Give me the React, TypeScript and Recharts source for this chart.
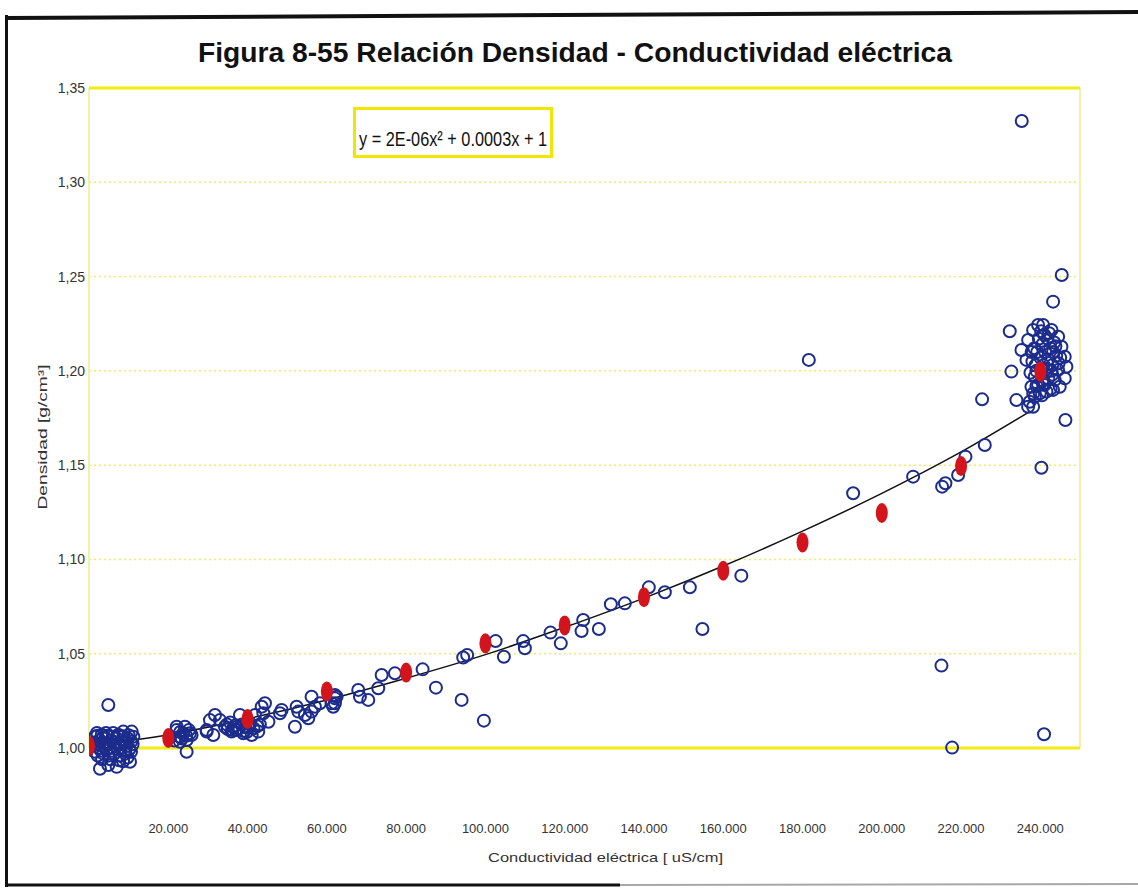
import React from 'react';
import {
  ComposedChart,
  XAxis,
  YAxis,
  Scatter,
  Line,
  ReferenceLine,
} from 'recharts';

// Conductivity (uS/cm) vs density (g/cm3) for the sampled brines
const sampleX: number[] = [
  // low-conductivity cluster
  1500, 2000, 3200, 4300, 6100, 7400, 8650, 10770,
  1500, 2800, 4200, 5600, 7000, 8400, 9800, 11200,
  1510, 2600, 3900, 5200, 6600, 8000, 9400, 11000,
  2200, 3600, 5000, 6400, 7800, 9200, 10600,
  2770, 4870, 6980, 8600, 10340, 4870,
  2100, 3400, 4700, 6000, 7300, 8700, 10000,
  2400, 3700, 5100, 6500, 7900, 9300, 10700,
  3000, 4400, 5800, 7200, 8900, 10200,
  3300, 5400, 7600, 9700,
  // around 20.000
  22120, 24210, 25470, 24630, 22950, 24630, 22950, 23780, 22120, 25880, 21500,
  23000, 24500, 23400, 25200,
  // 30.000 - 62.000
  29680, 31780, 30520, 29680, 31360, 33040, 34300, 35990, 37250, 38920, 41040,
  42700, 40610, 41870, 43560, 44390, 43980, 45270, 48170, 48590, 52380, 52800,
  51950, 54480, 55320, 56150, 57000, 56150, 58260, 61210, 62040, 61610, 38080,
  36500, 39500, 37000, 39000, 35000,
  34800, 36200, 37800, 39800, 41500, 42400, 35600, 38600, 40200, 43100,
  // 62.000 - 90.000
  62040, 62040, 67920, 68350, 70450, 72970, 73830, 77180, 84160, 87520, 62460,
  // 90.000 - 170.000
  94000, 99622, 94400, 95400, 102570, 104660, 109540, 109960, 116420, 119020,
  124670, 124260, 128620, 131650, 135180, 141230, 145270, 151580, 154750, 164570,
  // 170.000 - 250.000
  181590, 192770, 207900, 215210, 216050, 219250, 221110, 225980, 225300, 240270,
  246320, 215050, 217740, 240930, 235310, 245400, 243210, 232280, 235230, 232700,
  233960,
  // high-conductivity cluster
  240690, 242810, 244480, 245320, 246150, 246570, 246150, 244890, 243210, 241530,
  239850, 238590, 237330, 236910, 238170, 236490, 236910, 238170, 239430, 244480,
  243640, 238590, 237750, 239430, 241110,
  238500, 240500, 242500, 238000, 240000, 242000, 244000, 239000, 241500, 243000,
  241000, 243500, 237500, 240500, 242000,
  239600, 241800, 243800, 237800, 239200, 241200, 243200, 245000, 238800, 240800,
  242800, 244600, 240200, 242200, 239000, 241000, 243000, 238200, 240400, 242600,
];

const sampleY: number[] = [
  1.006, 1.008, 1.007, 1.008, 1.008, 1.007, 1.0087, 1.0087,
  1.003, 1.004, 1.005, 1.004, 1.005, 1.004, 1.005, 1.006,
  0.998, 1.0, 1.001, 1.0, 1.001, 1.0, 1.001, 1.002,
  0.996, 0.997, 0.996, 0.997, 0.996, 0.997, 0.998,
  0.989, 0.991, 0.99, 0.993, 0.9927, 1.0228,
  1.0065, 1.0055, 1.0065, 1.006, 1.0065, 1.0062, 1.0068,
  1.0015, 1.0025, 1.002, 1.003, 1.002, 1.0028, 1.0035,
  0.9985, 0.999, 0.9985, 0.9992, 0.9985, 0.9995,
  0.994, 0.994, 0.9935, 0.995,
  1.0113, 1.0113, 1.0078, 1.0042, 1.0033, 0.998, 1.006, 1.0078, 1.0095, 1.0069, 1.004,
  1.0085, 1.0065, 1.005, 1.0095,
  1.0087, 1.0175, 1.0148, 1.0095, 1.0069, 1.0148, 1.0113, 1.0087, 1.0095, 1.0078, 1.0069,
  1.0087, 1.0131, 1.0175, 1.0219, 1.0237, 1.0184, 1.0139, 1.0184, 1.0202, 1.0219, 1.0193,
  1.0113, 1.0175, 1.0158, 1.0193, 1.0219, 1.0272, 1.0237, 1.0237, 1.0264, 1.0219, 1.0175,
  1.011, 1.011, 1.012, 1.009, 1.01,
  1.0125, 1.0095, 1.0105, 1.0085, 1.0105, 1.0115, 1.0135, 1.0125, 1.011, 1.0125,
  1.0281, 1.0237, 1.0308, 1.0272, 1.0255, 1.0317, 1.0387, 1.0396, 1.0417, 1.032, 1.0272,
  1.0255, 1.0145, 1.048, 1.0493, 1.0567, 1.0484, 1.0567, 1.0529, 1.0612, 1.0555,
  1.0679, 1.062, 1.0631, 1.0762, 1.0767, 1.0852, 1.0826, 1.0852, 1.0631, 1.0914,
  1.2058, 1.1351, 1.1439, 1.1386, 1.1404, 1.1448, 1.1545, 1.1607, 1.1849, 1.1486,
  1.1739, 1.0437, 1.0002, 1.0073, 1.3325, 1.2508, 1.2367, 1.221, 1.2111, 1.1996,
  1.1845,
  1.2243, 1.2217, 1.2181, 1.2128, 1.2075, 1.2022, 1.196, 1.1916, 1.1899, 1.189,
  1.1881, 1.1863, 1.1836, 1.181, 1.181, 1.2058, 1.2164, 1.2217, 1.2243, 1.2005,
  1.1952, 1.1969, 1.1916, 1.1925, 1.1934,
  1.212, 1.214, 1.212, 1.205, 1.207, 1.206, 1.208, 1.2, 1.201, 1.203,
  1.219, 1.215, 1.199, 1.195, 1.196,
  1.217, 1.217, 1.213, 1.21, 1.21, 1.21, 1.21, 1.207, 1.203, 1.203,
  1.2, 1.204, 1.221, 1.22, 1.192, 1.1925, 1.198, 1.188, 1.187, 1.1905,
];

// Reference densities every 20.000 uS/cm
const refX: number[] = [0, 20000, 40000, 60000, 80000, 100000, 120000, 140000, 160000, 180000, 200000, 220000, 240000];
const refY: number[] = [1.001, 1.0053, 1.0154, 1.030, 1.040, 1.0555, 1.065, 1.080, 1.094, 1.109, 1.1246, 1.1495, 1.1996];

// Polynomial trend line, sampled along the fitted curve
const trendX: number[] = [0, 20000, 40000, 60000, 80000, 100000, 120000, 140000, 160000, 180000, 200000, 220000, 237000];
const trendY: number[] = [1.001, 1.007, 1.0155, 1.0255, 1.037, 1.0495, 1.064, 1.0795, 1.0965, 1.115, 1.135, 1.157, 1.178];

const xTicks: number[] = [20000, 40000, 60000, 80000, 100000, 120000, 140000, 160000, 180000, 200000, 220000, 240000];
const yTicks: number[] = [1.0, 1.05, 1.1, 1.15, 1.2, 1.25, 1.3, 1.35];
const innerGrid: number[] = [1.05, 1.1, 1.15, 1.2, 1.25, 1.3];

const samples = sampleX.map((x, i) => ({ x, y: sampleY[i] }));
const references = refX.map((x, i) => ({ x, y: refY[i] }));
const trend = trendX.map((x, i) => ({ x, y: trendY[i] }));

const fmtX = (v: number) => `${Math.round(v / 1000)}.000`;
const fmtY = (v: number) => v.toFixed(2).replace('.', ',');

const FONT = '"Liberation Sans", Arial, sans-serif';

const OpenCircle = (props: any) => {
  const { cx, cy } = props;
  if (cx == null || cy == null) return null;
  return <circle cx={cx} cy={cy} r={6} fill="none" stroke="#1c2c8c" strokeWidth={2} />;
};

const RedDot = (props: any) => {
  const { cx, cy } = props;
  if (cx == null || cy == null) return null;
  return <ellipse cx={cx} cy={cy} rx={6} ry={10} fill="#d3141c" />;
};

export default function App() {
  return (
    <div style={{ position: 'absolute', left: 0, top: 0, width: 1138, height: 890, background: '#fff' }}>
      <ComposedChart
        width={1138}
        height={890}
        margin={{ top: 88, right: 58, bottom: 46, left: 29 }}
      >
        <XAxis
          type="number"
          dataKey="x"
          domain={[0, 250000]}
          ticks={xTicks}
          tickFormatter={fmtX}
          axisLine={false}
          tickLine={false}
          tickSize={0}
          tickMargin={10}
          height={30}
          interval={0}
          allowDataOverflow
          tick={{ fill: '#333', fontSize: 13, fontFamily: FONT }}
        />
        <YAxis
          type="number"
          dataKey="y"
          domain={[0.965, 1.35]}
          ticks={yTicks}
          tickFormatter={fmtY}
          axisLine={false}
          tickLine={false}
          tickSize={0}
          tickMargin={4}
          width={60}
          interval={0}
          allowDataOverflow
          tick={{ fill: '#333', fontSize: 14, fontFamily: FONT }}
        />
        {innerGrid.map((v) => (
          <ReferenceLine
            key={v}
            y={v}
            stroke="#eeea70"
            strokeWidth={1.5}
            strokeDasharray="2 3"
            ifOverflow="visible"
          />
        ))}
        <ReferenceLine
          segment={[{ x: 0, y: 1.0 }, { x: 0, y: 1.35 }]}
          stroke="#f3f0a8"
          strokeWidth={2}
          ifOverflow="visible"
        />
        <ReferenceLine
          segment={[{ x: 250000, y: 1.0 }, { x: 250000, y: 1.35 }]}
          stroke="#f3f0a8"
          strokeWidth={2}
          ifOverflow="visible"
        />
        <ReferenceLine y={1.35} stroke="#f2ec10" strokeWidth={3} ifOverflow="visible" />
        <ReferenceLine y={1.0} stroke="#f2ec10" strokeWidth={3} ifOverflow="visible" />
        <Scatter data={samples} shape={OpenCircle} isAnimationActive={false} />
        <Line
          data={trend}
          dataKey="y"
          type="monotone"
          stroke="#111"
          strokeWidth={1.5}
          dot={false}
          activeDot={false}
          isAnimationActive={false}
        />
        <Scatter data={references} shape={RedDot} isAnimationActive={false} />
      </ComposedChart>

      <svg
        width={1138}
        height={890}
        style={{ position: 'absolute', left: 0, top: 0, pointerEvents: 'none' }}
      >
        {/* frame */}
        <line x1={6.5} y1={15} x2={6.5} y2={887} stroke="#111" strokeWidth={3} />
        <line x1={5} y1={18} x2={1138} y2={12} stroke="#111" strokeWidth={4} />
        <line x1={5} y1={885} x2={620} y2={885} stroke="#111" strokeWidth={3} />
        <line x1={620} y1={885} x2={1138} y2={884} stroke="#a8a8a8" strokeWidth={2} />

        {/* title */}
        <text
          x={198}
          y={62}
          fontFamily={FONT}
          fontWeight="bold"
          fontSize={27}
          fill="#111"
          textLength={754}
          lengthAdjust="spacingAndGlyphs"
        >
          Figura 8-55 Relación Densidad - Conductividad eléctrica
        </text>

        {/* fitted equation */}
        <rect x={354.5} y={108.5} width={197} height={48} fill="#fff" stroke="#f0e600" strokeWidth={3} />
        <text
          x={359}
          y={146}
          fontFamily={FONT}
          fontSize={20}
          fill="#111"
          textLength={188}
          lengthAdjust="spacingAndGlyphs"
        >
          y = 2E-06x² + 0.0003x + 1
        </text>

        {/* axis titles */}
        <text
          x={488}
          y={862}
          fontFamily={FONT}
          fontSize={13}
          fill="#333"
          textLength={235}
          lengthAdjust="spacingAndGlyphs"
        >
          Conductividad eléctrica [ uS/cm]
        </text>
        <text
          transform="translate(47,437) rotate(-90)"
          textAnchor="middle"
          fontFamily={FONT}
          fontSize={13}
          fill="#333"
          textLength={145}
          lengthAdjust="spacingAndGlyphs"
        >
          Densidad [g/cm³]
        </text>
      </svg>
    </div>
  );
}
